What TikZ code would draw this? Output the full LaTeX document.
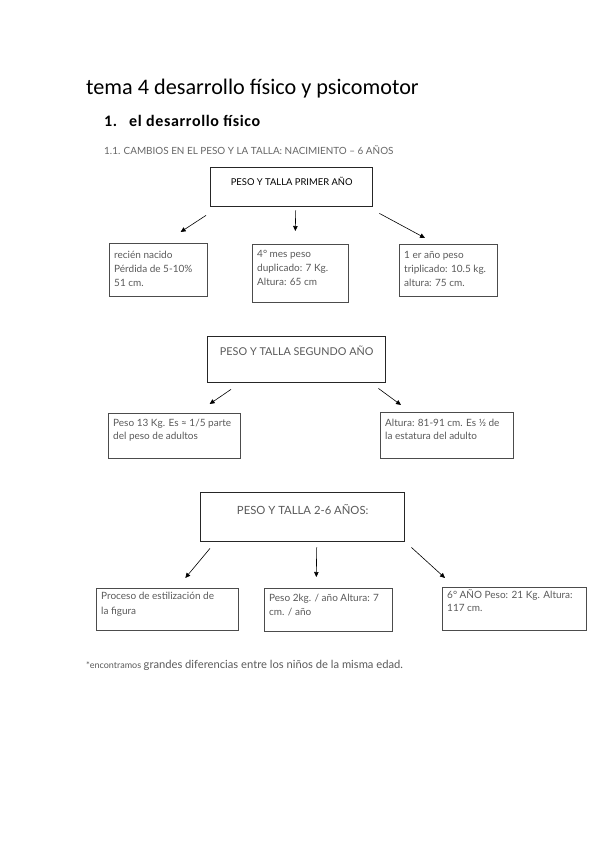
\documentclass[tikz,border=0pt]{standalone}
\usepackage{fontspec}
\setmainfont{Lato}
\newfontfamily\calibri{Carlito}
\newfontfamily\calibrisp{Carlito}[LetterSpace=4]
\usetikzlibrary{arrows.meta,positioning}

\begin{document}
\begin{tikzpicture}[
    x=1pt, y=-1pt,
    bigbox/.style={draw=black!85, line width=1.4pt, anchor=north west, inner sep=0pt},
    smallbox/.style={draw=black!70, line width=0.6pt, anchor=north west, inner sep=0pt},
    bigtxt/.style={anchor=north, inner sep=0pt, text height=6pt, text depth=2pt, text=black!65},
    smalltxt/.style={anchor=north west, align=left, inner xsep=5pt, inner ysep=8pt, font=\fontsize{10}{14}\selectfont, text=black!65},
    arrow/.style={-{Triangle[length=5pt,width=4.5pt]}, line width=0.6pt}
]
    \useasboundingbox (0,0) rectangle (599,848);

    % titles
    \node[anchor=base west, inner sep=0pt, font=\calibri\fontsize{22.2}{24}\selectfont] (titulo) at (86,95) {tema 4 desarrollo físico y psicomotor};
    \node[anchor=base west, inner sep=0pt, font=\calibrisp\bfseries\fontsize{16}{18}\selectfont] (num) at (104,127) {1.};
    \node[anchor=base west, inner sep=0pt, font=\calibrisp\bfseries\fontsize{16}{18}\selectfont] (apartado) at (129,127) {el desarrollo físico};
    \node[anchor=base west, inner sep=0pt, font=\fontsize{9.9}{11}\selectfont, text=black!60] (sub) at (104,154) {1.1. CAMBIOS EN EL PESO Y LA TALLA: NACIMIENTO – 6 AÑOS};

    % primer año
    \node[bigbox, minimum width=162, minimum height=39,
        label={[bigtxt, text=black, inner ysep=12.4pt, font=\fontsize{9.4}{10}\selectfont]north:PESO Y TALLA PRIMER AÑO}] (primer) at (210,167) {};
    \node[smallbox, minimum width=98, minimum height=53,
        label={[smalltxt, inner ysep=8.3pt]north west:recién nacido\\Pérdida de 5-10\%\\51 cm.}] (nacido) at (109,243) {};
    \node[smallbox, minimum width=96, minimum height=58,
        label={[smalltxt, inner ysep=6.3pt]north west:4° mes peso\\duplicado: 7 Kg.\\Altura: 65 cm}] (cuarto) at (252,244) {};
    \node[smallbox, minimum width=98, minimum height=52,
        label={[smalltxt, inner ysep=7.3pt]north west:1 er año peso\\triplicado: 10.5 kg.\\altura: 75 cm.}] (anio) at (399,244) {};

    \draw[arrow] ([xshift=-4pt,yshift=-8pt]primer.south west) -- ([xshift=-27pt,yshift=11pt]nacido.north east);
    \draw[arrow] ([xshift=4pt,yshift=-3pt]primer.south) -- ([xshift=-5pt,yshift=13pt]cuarto.north);
    \draw[arrow] ([xshift=6pt,yshift=-6pt]primer.south east) -- ([xshift=26pt,yshift=6pt]anio.north west);

    % segundo año
    \node[bigbox, minimum width=178, minimum height=46,
        label={[bigtxt, inner ysep=13.6pt, font=\fontsize{10.8}{11}\selectfont]north:PESO Y TALLA SEGUNDO AÑO}] (segundo) at (207,336) {};
    \node[smallbox, minimum width=132, minimum height=45,
        label={[smalltxt, inner ysep=6.3pt, font=\fontsize{10}{13}\selectfont]north west:Peso 13 Kg. Es ≈ 1/5 parte\\del peso de adultos}] (peso13) at (108,413) {};
    \node[smallbox, minimum width=133, minimum height=46,
        label={[smalltxt, inner ysep=7.3pt, font=\fontsize{10}{13}\selectfont]north west:Altura: 81-91 cm. Es ½ de\\la estatura del adulto}] (altura) at (380,412) {};

    \draw[arrow] ([xshift=24pt,yshift=-6pt]segundo.south west) -- ([xshift=-31pt,yshift=9pt]peso13.north east);
    \draw[arrow] ([xshift=-8pt,yshift=-5pt]segundo.south east) -- ([xshift=21pt,yshift=7pt]altura.north west);

    % 2-6 años
    \node[bigbox, minimum width=204, minimum height=49,
        label={[bigtxt, inner ysep=16pt, font=\fontsize{11.3}{12}\selectfont]north:PESO Y TALLA 2-6 AÑOS:}] (seis) at (200,492) {};
    \node[smallbox, minimum width=142, minimum height=42,
        label={[smalltxt, inner ysep=4.3pt, font=\fontsize{10}{15}\selectfont]north west:Proceso de estilización de\\la figura}] (estil) at (96,588) {};
    \node[smallbox, minimum width=128, minimum height=43,
        label={[smalltxt, inner ysep=6.3pt]north west:Peso 2kg. / año Altura: 7\\cm. / año}] (kgano) at (264,588) {};
    \node[smallbox, minimum width=144, minimum height=43,
        label={[smalltxt, inner ysep=2pt, font=\fontsize{10}{13}\selectfont]north west:6° AÑO Peso: 21 Kg. Altura:\\117 cm.}] (sexto) at (442,587) {};

    \draw[arrow] ([xshift=10pt,yshift=-6pt]seis.south west) -- ([xshift=18pt,yshift=10pt]estil.north);
    \draw[arrow] ([xshift=14pt,yshift=-5pt]seis.south) -- ([xshift=-12pt,yshift=11pt]kgano.north);
    \draw[arrow] ([xshift=6pt,yshift=-5pt]seis.south east) -- ([xshift=3pt,yshift=9pt]sexto.north west);

    % nota
    \node[anchor=base west, inner sep=0pt, text=black!65] (nota) at (86,668) {{\fontsize{9}{10}\selectfont *encontramos} {\fontsize{11.2}{12}\selectfont grandes diferencias entre los niños de la misma edad.}};
\end{tikzpicture}
\end{document}
